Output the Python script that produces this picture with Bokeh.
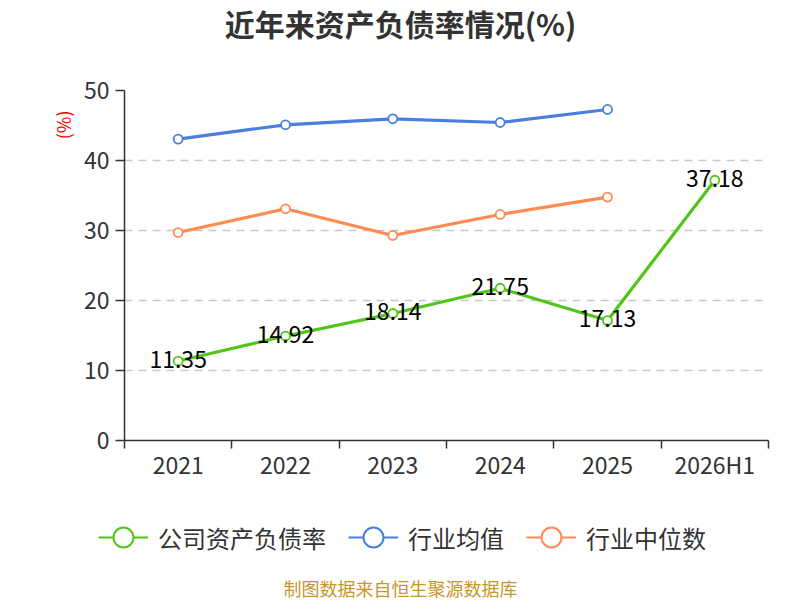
import math
from bokeh.plotting import figure
from bokeh.layouts import column
from bokeh.models import (ColumnDataSource, Range1d, FixedTicker, Title, Legend, LegendItem, Label)
from bokeh.core.properties import value
from bokeh.embed import file_html
from bokeh.resources import INLINE

categories = ["2021", "2022", "2023", "2024", "2025", "2026H1"]
company = [11.35, 14.92, 18.14, 21.75, 17.13, 37.18]
industry_avg = [43.06, 45.1, 45.96, 45.43, 47.29]
industry_median = [29.71, 33.1, 29.29, 32.29, 34.77]
y_ticks = [0, 10, 20, 30, 40, 50]

title_text = "近年来资产负债率情况(%)"
unit_text = "(%)"
footer_text = "制图数据来自恒生聚源数据库"
names = ["公司资产负债率", "行业均值", "行业中位数"]

FONT = "Noto Sans CJK SC"
GREEN = "#52c41a"
BLUE = "#4a7fe0"
ORANGE = "#ff8a52"

xs = [i + 0.5 for i in range(len(categories))]


def strip(height):
    f = figure(width=800, height=height, output_backend="svg", toolbar_location=None,
               x_range=Range1d(0, 800), y_range=Range1d(0, height),
               x_axis_location=None, y_axis_location=None, tools="",
               min_border_left=0, min_border_right=0, min_border_top=0, min_border_bottom=0)
    f.frame_align = False
    f.outline_line_color = None
    f.xgrid.grid_line_color = None
    f.ygrid.grid_line_color = None
    f.border_fill_color = "white"
    return f


# top strip: title
t = strip(60)
t.add_layout(Label(x=400, y=38, text=title_text, text_font=FONT, text_font_size="30px",
                   text_font_style="bold", text_color="#333333", text_align="center",
                   text_baseline="middle"))

# main chart
p = figure(width=800, height=430, output_backend="svg", toolbar_location=None,
           x_range=Range1d(0, len(categories)), y_range=Range1d(0, 50),
           min_border_left=124, min_border_right=32, min_border_top=30,
           min_border_bottom=50, tools="")
p.frame_align = False
p.outline_line_color = None
p.background_fill_color = "white"
p.border_fill_color = "white"

xa = p.xaxis[0]
xa.ticker = FixedTicker(ticks=xs, minor_ticks=list(range(len(categories) + 1)))
xa.major_label_overrides = {x: c for x, c in zip(xs, categories)}
xa.major_tick_line_color = None
xa.major_tick_out = 2
xa.major_tick_in = 0
xa.minor_tick_out = 8
xa.minor_tick_in = 0
xa.minor_tick_line_color = "#333333"
xa.minor_tick_line_width = 1.5
xa.axis_line_color = "#333333"
xa.axis_line_width = 1.5
xa.major_label_text_font = FONT
xa.major_label_text_font_size = "23px"
xa.major_label_text_color = "#333333"
xa.major_label_standoff = -2

ya = p.yaxis[0]
ya.ticker = FixedTicker(ticks=y_ticks)
ya.major_tick_out = 9
ya.major_tick_in = 0
ya.minor_tick_line_color = None
ya.major_tick_line_color = "#333333"
ya.major_tick_line_width = 1.5
ya.axis_line_color = "#333333"
ya.axis_line_width = 1.5
ya.major_label_text_font = FONT
ya.major_label_text_font_size = "23px"
ya.major_label_text_color = "#333333"
ya.major_label_standoff = 6

p.xgrid.grid_line_color = None
p.ygrid.ticker = FixedTicker(ticks=[v for v in y_ticks if v > 0])
p.ygrid.grid_line_color = "#c8c8c8"
p.ygrid.grid_line_width = 1.5
p.ygrid.grid_line_dash = "8 6"

src_c = ColumnDataSource(dict(x=xs, y=company, t=[f"{v:.2f}" for v in company]))
src_a = ColumnDataSource(dict(x=xs[:len(industry_avg)], y=industry_avg))
src_m = ColumnDataSource(dict(x=xs[:len(industry_median)], y=industry_median))

for src, col in [(src_m, ORANGE), (src_a, BLUE), (src_c, GREEN)]:
    p.line("x", "y", source=src, line_color=col, line_width=3.2)
    p.scatter("x", "y", source=src, size=9, fill_color="white", line_color=col, line_width=1.8)

p.text("x", "y", text="t", source=src_c, text_font=value(FONT), text_font_size="23px",
       text_color="#000000", text_align="center", text_baseline="middle", y_offset=-2)

p.add_layout(Title(text=unit_text, align="right", offset=20, text_font=FONT,
                   text_font_size="18px", text_font_style="normal", text_color="#ff0000"), "left")

# bottom strip: legend + source note
q = strip(110)
items = []
for name, col in zip(names, [GREEN, BLUE, ORANGE]):
    s = ColumnDataSource(dict(x=[float("nan")], y=[float("nan")]))
    r1 = q.line("x", "y", source=s, line_color=col, line_width=2)
    r2 = q.scatter("x", "y", source=s, size=20, fill_color="white", line_color=col, line_width=2)
    items.append(LegendItem(label=name, renderers=[r1, r2]))
legend = Legend(items=items, orientation="horizontal", location=(98, 38),
                glyph_width=50, glyph_height=50, label_standoff=10, spacing=22,
                padding=0, margin=0, border_line_color=None, background_fill_alpha=0,
                label_text_font=FONT, label_text_font_size="24px", label_text_color="#333333")
q.add_layout(legend, "center")
q.add_layout(Label(x=400, y=13, text=footer_text, text_font=FONT, text_font_size="18px",
                   text_color="#c8962b", text_align="center", text_baseline="middle"))

open("out.html", "w").write(file_html(column(t, p, q, spacing=0), INLINE))
